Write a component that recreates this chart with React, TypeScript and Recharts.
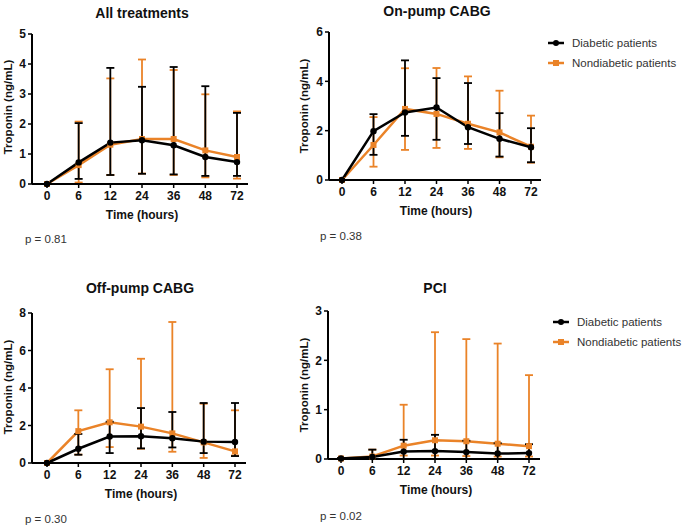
import React from 'react';
import { LineChart, Line, XAxis, YAxis, ErrorBar } from 'recharts';

const times = ['0', '6', '12', '24', '36', '48', '72'];

// All treatments
const diabAllMean = [0, 0.72, 1.38, 1.46, 1.29, 0.9, 0.73];
const diabAllLow = [0, 0.17, 0.3, 0.34, 0.32, 0.27, 0.27];
const diabAllHigh = [0, 2.03, 3.87, 3.24, 3.9, 3.26, 2.37];
const nonAllMean = [0, 0.63, 1.31, 1.5, 1.5, 1.12, 0.9];
const nonAllLow = [0, 0.05, 0.3, 0.35, 0.3, 0.22, 0.18];
const nonAllHigh = [0, 2.08, 3.52, 4.15, 3.8, 2.99, 2.42];

// On-pump CABG
const diabOnMean = [0, 1.98, 2.74, 2.94, 2.14, 1.67, 1.33];
const diabOnLow = [0, 1.02, 1.79, 1.63, 1.46, 0.95, 0.72];
const diabOnHigh = [0, 2.67, 4.85, 4.13, 3.93, 2.71, 2.1];
const nonOnMean = [0, 1.42, 2.88, 2.68, 2.28, 1.93, 1.35];
const nonOnLow = [0, 0.54, 1.22, 1.3, 1.26, 0.92, 0.7];
const nonOnHigh = [0, 2.55, 4.53, 4.54, 4.2, 3.62, 2.61];

// Off-pump CABG
const diabOffMean = [0, 0.76, 1.41, 1.43, 1.32, 1.14, 1.12];
const diabOffLow = [0, 0.44, 0.53, 0.78, 0.83, 0.53, 0.37];
const diabOffHigh = [0, 1.55, 2.2, 2.93, 2.72, 3.2, 3.2];
const nonOffMean = [0, 1.7, 2.17, 1.94, 1.58, 1.1, 0.62];
const nonOffLow = [0, 0.45, 0.85, 0.76, 0.6, 0.27, 0.4];
const nonOffHigh = [0, 2.81, 5.0, 5.56, 7.52, 3.16, 2.81];

// PCI
const diabPciMean = [0.01, 0.04, 0.15, 0.16, 0.14, 0.11, 0.12];
const diabPciLow = [0, 0, 0, 0, 0, 0, 0];
const diabPciHigh = [0.02, 0.19, 0.39, 0.49, 0.37, 0.32, 0.3];
const nonPciMean = [0.01, 0.05, 0.27, 0.38, 0.36, 0.31, 0.26];
const nonPciLow = [0, 0, 0.07, 0.07, 0.06, 0.05, 0.05];
const nonPciHigh = [0.02, 0.19, 1.1, 2.57, 2.43, 2.34, 1.7];

const seriesNames = ['Diabetic patients', 'Nondiabetic patients'];
const pValues = ['p = 0.81', 'p = 0.38', 'p = 0.30', 'p = 0.02'];
const titles = ['All treatments', 'On-pump CABG', 'Off-pump CABG', 'PCI'];

const BLACK = '#000000';
const ORANGE = '#EA8328';
const FONT = '"Liberation Sans", Arial, sans-serif';

function buildRows(dm: number[], dl: number[], dh: number[], nm: number[], nl: number[], nh: number[]) {
  return times.map((t, i) => ({
    t,
    dm: dm[i],
    de: [dm[i] - dl[i], dh[i] - dm[i]],
    nm: nm[i],
    ne: [nm[i] - nl[i], nh[i] - nm[i]],
  }));
}

const SquareDot = (props: any) => {
  const { cx, cy, index } = props;
  if (cx == null || cy == null) return <g key={'s' + index} />;
  return <rect key={'s' + index} x={cx - 3} y={cy - 3} width={6} height={6} fill={ORANGE} />;
};

type PanelProps = {
  rows: any[];
  left: number;
  top: number;
  plotLeft: number;
  plotRight: number;
  plotTop: number;
  plotBottom: number;
  yMax: number;
  yTicks: number[];
  padL: number;
  padR: number;
};

function Panel(p: PanelProps) {
  const W = 300;
  const H = 260;
  const yW = p.plotLeft - p.left;
  const xH = 20;
  const margin = {
    top: p.plotTop - p.top,
    left: 0,
    right: W - (p.plotRight - p.left),
    bottom: H - (p.plotBottom - p.top) - xH,
  };
  const tickStyle = { fontSize: 12, fontWeight: 700, fill: '#111', fontFamily: FONT };
  return (
    <div style={{ position: 'absolute', left: p.left, top: p.top }}>
      <LineChart width={W} height={H} data={p.rows} margin={margin}>
        <XAxis
          dataKey="t"
          height={xH}
          padding={{ left: p.padL, right: p.padR }}
          axisLine={{ stroke: '#000', strokeWidth: 2 }}
          tickLine={{ stroke: '#000', strokeWidth: 1.5 }}
          tickSize={4}
          tickMargin={3}
          tick={tickStyle}
          interval={0}
        />
        <YAxis
          type="number"
          domain={[0, p.yMax]}
          ticks={p.yTicks}
          width={yW}
          axisLine={{ stroke: '#000', strokeWidth: 2 }}
          tickLine={{ stroke: '#000', strokeWidth: 1.5 }}
          tickSize={4}
          tickMargin={2}
          tick={tickStyle}
          interval={0}
        />
        <Line
          dataKey="nm"
          stroke={ORANGE}
          strokeWidth={2.5}
          dot={<SquareDot />}
          isAnimationActive={false}
        >
          <ErrorBar dataKey="ne" direction="y" width={4} stroke={ORANGE} strokeWidth={1.8} />
        </Line>
        <Line
          dataKey="dm"
          stroke={BLACK}
          strokeWidth={2.5}
          dot={{ r: 3.2, fill: BLACK, stroke: BLACK, strokeWidth: 0 }}
          isAnimationActive={false}
        >
          <ErrorBar dataKey="de" direction="y" width={4} stroke={BLACK} strokeWidth={1.8} />
        </Line>
      </LineChart>
    </div>
  );
}

function Text(props: { x: number; y: number; children: string; size: number; bold?: boolean; anchor?: 'left' | 'center'; rotate?: boolean; color?: string }) {
  const tx = props.anchor === 'left' ? '0' : '-50%';
  const transform = props.rotate
    ? 'translate(-50%, -50%) rotate(-90deg)'
    : `translate(${tx}, -50%)`;
  return (
    <div style={{ position: 'absolute', left: props.x, top: props.y, width: 0, height: 0 }}>
      <span
        style={{
          position: 'absolute',
          left: 0,
          top: 0,
          transform,
          whiteSpace: 'nowrap',
          fontFamily: FONT,
          fontSize: props.size,
          fontWeight: props.bold ? 700 : 400,
          color: props.color || '#111',
          lineHeight: 1,
        }}
      >
        {props.children}
      </span>
    </div>
  );
}

function Legend({ x, y }: { x: number; y: number }) {
  return (
    <div style={{ position: 'absolute', left: x, top: y }}>
      {seriesNames.map((name, i) => (
        <div key={name} style={{ position: 'absolute', left: 0, top: i * 20, height: 14, width: 150 }}>
          <svg width={18} height={10} style={{ position: 'absolute', left: 0, top: 2 }}>
            <line x1={1} y1={5} x2={17} y2={5} stroke={i === 0 ? BLACK : ORANGE} strokeWidth={2.5} />
            {i === 0 ? (
              <circle cx={9} cy={5} r={3} fill={BLACK} />
            ) : (
              <rect x={6} y={2} width={6} height={6} fill={ORANGE} />
            )}
          </svg>
          <span
            style={{
              position: 'absolute',
              left: 25,
              top: 0,
              fontFamily: FONT,
              fontSize: 11.5,
              color: '#333',
              whiteSpace: 'nowrap',
              lineHeight: '14px',
            }}
          >
            {name}
          </span>
        </div>
      ))}
    </div>
  );
}

export default function App() {
  const rowsAll = buildRows(diabAllMean, diabAllLow, diabAllHigh, nonAllMean, nonAllLow, nonAllHigh);
  const rowsOn = buildRows(diabOnMean, diabOnLow, diabOnHigh, nonOnMean, nonOnLow, nonOnHigh);
  const rowsOff = buildRows(diabOffMean, diabOffLow, diabOffHigh, nonOffMean, nonOffLow, nonOffHigh);
  const rowsPci = buildRows(diabPciMean, diabPciLow, diabPciHigh, nonPciMean, nonPciLow, nonPciHigh);

  return (
    <div style={{ position: 'absolute', left: 0, top: 0, width: 685, height: 530, background: '#fff', overflow: 'hidden' }}>
      <Panel rows={rowsAll} left={0} top={0} plotLeft={32} plotRight={248} plotTop={34} plotBottom={184}
        yMax={5} yTicks={[0, 1, 2, 3, 4, 5]} padL={15} padR={11} />
      <Panel rows={rowsOn} left={280} top={0} plotLeft={329} plotRight={541} plotTop={32} plotBottom={180}
        yMax={6} yTicks={[0, 2, 4, 6]} padL={13} padR={10} />
      <Panel rows={rowsOff} left={0} top={270} plotLeft={32} plotRight={246} plotTop={313} plotBottom={463}
        yMax={8} yTicks={[0, 2, 4, 6, 8]} padL={15} padR={11} />
      <Panel rows={rowsPci} left={280} top={270} plotLeft={328} plotRight={540} plotTop={311} plotBottom={459}
        yMax={3} yTicks={[0, 1, 2, 3]} padL={13} padR={11} />

      <Text x={142} y={13} size={14} bold>{titles[0]}</Text>
      <Text x={437} y={11} size={14} bold>{titles[1]}</Text>
      <Text x={140} y={288} size={14} bold>{titles[2]}</Text>
      <Text x={435} y={288} size={14} bold>{titles[3]}</Text>

      <Text x={9} y={107} size={11.5} bold rotate>Troponin (ng/mL)</Text>
      <Text x={305} y={106} size={11.5} bold rotate>Troponin (ng/mL)</Text>
      <Text x={9} y={387} size={11.5} bold rotate>Troponin (ng/mL)</Text>
      <Text x={305} y={385} size={11.5} bold rotate>Troponin (ng/mL)</Text>

      <Text x={142} y={215} size={12} bold>Time (hours)</Text>
      <Text x={436} y={211} size={12} bold>Time (hours)</Text>
      <Text x={141} y={494} size={12} bold>Time (hours)</Text>
      <Text x={436} y={490} size={12} bold>Time (hours)</Text>

      <Text x={25} y={240} size={11.5} anchor="left" color="#333">{pValues[0]}</Text>
      <Text x={320} y={237} size={11.5} anchor="left" color="#333">{pValues[1]}</Text>
      <Text x={25} y={520} size={11.5} anchor="left" color="#333">{pValues[2]}</Text>
      <Text x={320} y={517} size={11.5} anchor="left" color="#333">{pValues[3]}</Text>

      <Legend x={547} y={36} />
      <Legend x={552} y={315} />
    </div>
  );
}
